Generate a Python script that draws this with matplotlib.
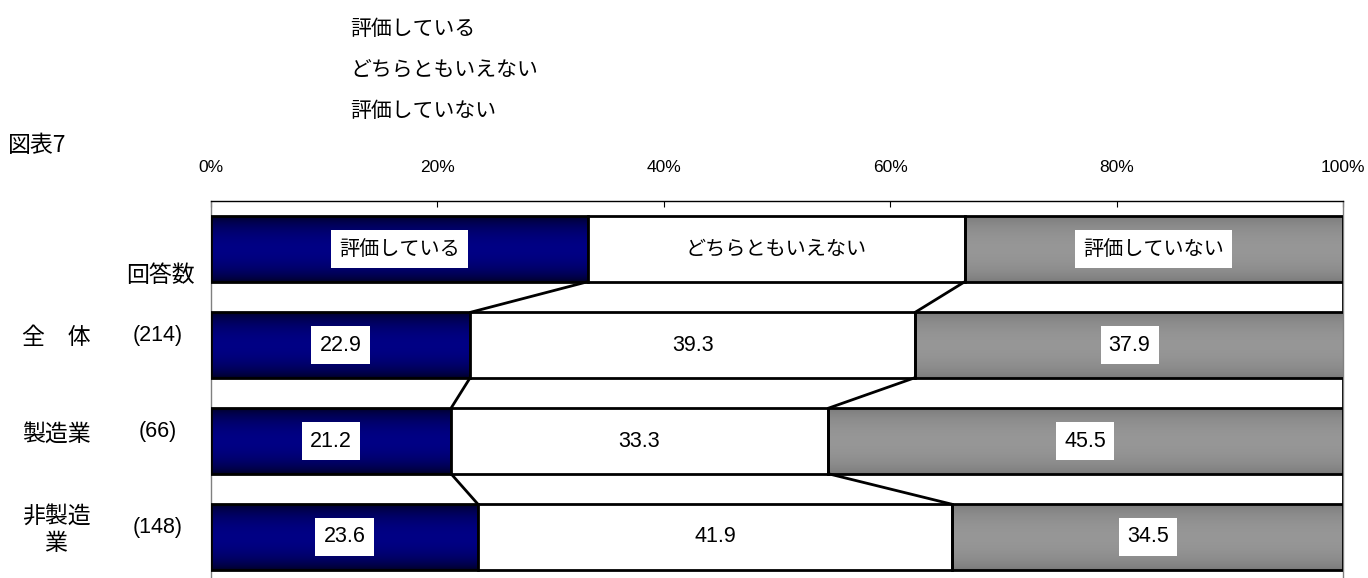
import numpy as np
import matplotlib.pyplot as plt

plt.rcParams['font.family'] = ['Liberation Sans', 'Noto Sans CJK JP']

# 回答区分と各グループの構成比 (%)
series_names = ['評価している', 'どちらともいえない', '評価していない']
groups = ['全　体', '製造業', '非製造\n業']
counts = ['(214)', '(66)', '(148)']
positive = [22.9, 21.2, 23.6]
neutral = [39.3, 33.3, 41.9]
negative = [37.9, 45.5, 34.5]
header_share = [33.3, 33.3, 33.4]   # 凡例用の見出し行
ticks = [0, 20, 40, 60, 80, 100]

jp = 'Noto Sans CJK JP'

# 見出し行 + データ行
rows = [header_share] + [list(v) for v in zip(positive, neutral, negative)]
vals = np.array(rows)
lefts = np.hstack([np.zeros((len(rows), 1)), np.cumsum(vals, axis=1)[:, :-1]])
ypos = np.arange(len(rows))
h = 0.68

fig = plt.figure(figsize=(13.68, 5.78), dpi=100)
ax = fig.add_axes([0.1542, -0.0121, 0.8275, 0.6643])

# グラデーション (上下が暗く中央が明るい)
t = np.linspace(0, 1, 64)
prof = np.sin(np.pi * t) ** 0.6
def grad(edge, mid):
    edge, mid = np.array(edge), np.array(mid)
    return (edge[None, :] + (mid - edge)[None, :] * prof[:, None])[:, None, :]

fills = [grad([0, 0, 0.13], [0, 0, 0.52]), None, grad([0.47, 0.47, 0.47], [0.59, 0.59, 0.59])]

for j in range(3):
    bars = ax.barh(ypos, vals[:, j], left=lefts[:, j], height=h,
                   facecolor='white' if fills[j] is None else 'none',
                   edgecolor='black', linewidth=2, zorder=3)
    for b in bars:
        if fills[j] is not None:
            x0, y0, w, hh = b.get_x(), b.get_y(), b.get_width(), b.get_height()
            ax.imshow(fills[j], extent=(x0, min(x0 + w, 100), y0 + hh, y0),
                      aspect='auto', interpolation='bilinear', zorder=2)

# 区切り線 (系列線)
ends = np.cumsum(vals, axis=1)
for i in range(len(rows) - 1):
    for j in range(3):
        ax.plot([min(ends[i, j], 100), min(ends[i + 1, j], 100)],
                [ypos[i] + h / 2, ypos[i + 1] - h / 2],
                color='black', lw=2, zorder=4, solid_capstyle='butt')

# ラベル
hbox = dict(boxstyle='square,pad=0.4', fc='white', ec='none')
box = dict(boxstyle='square,pad=0.38', fc='white', ec='none')
for j, name in enumerate(series_names):
    cx = lefts[0, j] + vals[0, j] / 2
    ax.text(cx, 0, name, ha='center', va='center', fontsize=14.5, family=jp,
            bbox=hbox if j != 1 else None, zorder=5)
for i in range(1, len(rows)):
    for j in range(3):
        cx = lefts[i, j] + vals[i, j] / 2
        ax.text(cx, ypos[i], f'{vals[i, j]:.1f}', ha='center', va='center',
                fontsize=15.5, bbox=box, zorder=5)

ax.set_xlim(0, 100)
ax.set_ylim(len(rows) - 0.5, -0.5)
ax.xaxis.tick_top()
ax.set_xticks(ticks)
ax.set_xticklabels([f'{v}%' for v in ticks], fontsize=12.5)
ax.tick_params(axis='x', direction='in', length=4, width=0.8, pad=19, colors='black')
ax.set_yticks([])
ax.spines['bottom'].set_visible(False)
ax.spines['top'].set_color('black')
ax.spines['top'].set_linewidth(1)
for s in ('left', 'right'):
    ax.spines[s].set_color('#808080')
    ax.spines[s].set_linewidth(1)

# 凡例テキスト
for k, name in enumerate(series_names):
    fig.text(350 / 1368, 1 - (29 + 41 * k) / 578, name, fontsize=15, family=jp,
             ha='left', va='center')

fig.text(8 / 1368, 1 - 145 / 578, '図表7', fontsize=16.5, family=jp, ha='left', va='center')
fig.text(160 / 1368, 1 - 275 / 578, '回答数', fontsize=16.5, family=jp, ha='center', va='center')

row_y = [337, 434, 530]
for g, c, y in zip(groups, counts, row_y):
    fig.text(56 / 1368, 1 - y / 578, g, fontsize=16.5, family=jp, ha='center', va='center',
             linespacing=1.25)
    fig.text(158 / 1368, 1 - (y - 2) / 578, c, fontsize=15.5, ha='center', va='center')

fig.savefig('out.png', dpi=100)
